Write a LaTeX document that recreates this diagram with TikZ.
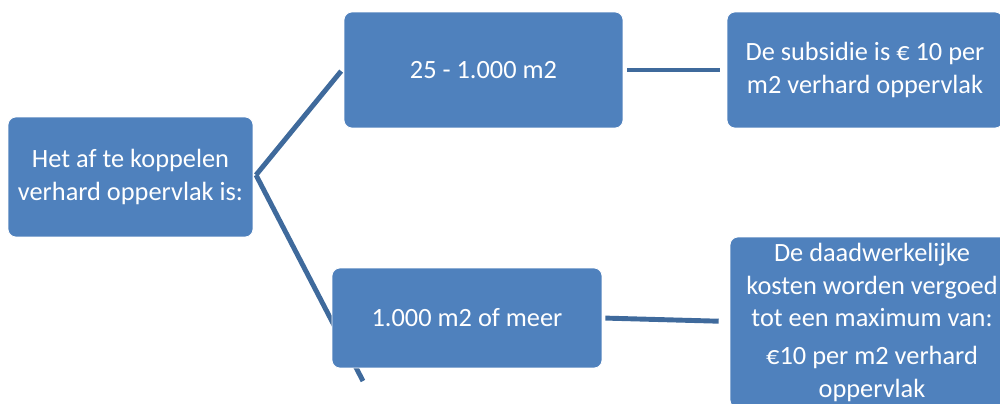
\documentclass[tikz,border=0pt]{standalone}
\usepackage{fontspec}
\setmainfont{Carlito}
\usetikzlibrary{backgrounds}

\definecolor{boxblue}{HTML}{4F81BD}
\definecolor{lineblue}{HTML}{3F6A9C}

\tikzset{
  blok/.style={draw=white, line width=0.4pt, fill=boxblue, rounded corners=0.16cm, text=white, align=center, inner sep=0pt,
    font=\fontsize{15}{18.5}\selectfont},
  verbinding/.style={draw=lineblue, line width=2.8pt}
}

\begin{document}
\begin{tikzpicture}[x=0.02cm, y=-0.02cm]
\useasboundingbox (0,0) rectangle (1000,403);
\clip (0,0) rectangle (1000,403);

\node[blok, minimum width=4.9cm, minimum height=2.4cm] (opp) at (130.5,177) {Het af te koppelen\\verhard oppervlak is:};

\node[blok, minimum width=5.58cm, minimum height=2.32cm] (klein) at (483.5,70) {25 - 1.000 m2};
\node[blok, minimum width=5.52cm, minimum height=2.32cm] (subsidie) at (865,70) {De subsidie is € 10 per\\m2 verhard oppervlak};

\node[blok, minimum width=5.4cm, minimum height=2.0cm] (groot) at (467,318) {1.000 m2 of meer};
\node[blok, minimum width=5.68cm, minimum height=3.42cm] (kosten) at (872,322.5) {De daadwerkelijke\\kosten worden vergoed\\tot een maximum van:\\[3pt]€10 per m2 verhard\\oppervlak};

\coordinate (splits) at (256,175);
\coordinate (eind) at (363,381);

\begin{scope}[on background layer]
\draw[verbinding, shorten >=0.08cm] (splits) -- ([yshift=0.04cm]klein.west);
\draw[verbinding] (splits) -- (eind);
\draw[verbinding, shorten <=0.08cm, shorten >=0.14cm] (klein.east) -- (subsidie.west);
\draw[verbinding, shorten <=0.06cm, shorten >=0.22cm] (groot.east) -- ([yshift=0.02cm]kosten.west);
\end{scope}
\end{tikzpicture}
\end{document}
